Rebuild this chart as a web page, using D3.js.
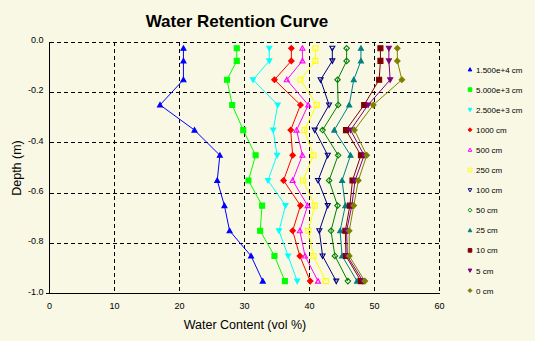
<!DOCTYPE html>
<html>
<head>
<meta charset="utf-8">
<script src="https://cdn.jsdelivr.net/npm/d3@7"></script>
<style>
  html, body { margin: 0; padding: 0; background: #f9f8e5; }
  svg { display: block; font-family: "Liberation Sans", Arial, sans-serif; }
</style>
</head>
<body>
<div id="chart"></div>
<script>
// 图表尺寸
const WIDTH = 535;
const HEIGHT = 341;

// 采样深度 (m)
const depths = [0.025, 0.075, 0.15, 0.25, 0.35, 0.45, 0.55, 0.65, 0.75, 0.85, 0.95];

// 各吸力水平下的含水量 (vol %)
const s15000 = [20.6, 20.6, 20.6, 17.0, 22.3, 26.2, 25.8, 26.9, 27.7, 31.0, 32.8];
const s5000  = [28.8, 28.8, 27.3, 28.1, 29.8, 31.7, 30.6, 32.7, 32.4, 34.6, 36.2];
const s2500  = [33.8, 33.8, 31.3, 35.1, 34.4, 35.0, 33.6, 36.3, 35.3, 36.7, 38.1];
const s1000  = [37.2, 37.2, 34.6, 38.6, 37.1, 37.4, 36.0, 38.6, 37.4, 38.5, 40.1];
const s500   = [38.9, 38.9, 36.5, 39.8, 38.0, 38.9, 37.4, 39.7, 38.5, 39.3, 41.3];
const s250   = [40.9, 40.9, 38.6, 41.1, 39.2, 40.6, 39.0, 40.8, 39.8, 40.6, 42.5];
const s100   = [43.5, 43.5, 41.7, 43.0, 40.8, 42.8, 41.3, 42.8, 41.5, 42.0, 44.1];
const s50    = [45.7, 45.7, 44.3, 44.4, 42.0, 44.4, 43.0, 44.3, 43.3, 43.9, 45.9];
const s25    = [47.9, 47.9, 46.8, 46.1, 43.8, 46.3, 45.0, 45.5, 44.7, 45.0, 47.3];
const s10    = [50.9, 50.9, 50.7, 48.4, 45.6, 47.9, 46.6, 46.2, 45.5, 45.6, 47.9];
const s5     = [52.2, 52.2, 52.4, 49.0, 46.3, 48.4, 47.0, 46.5, 45.7, 45.8, 48.2];
const s0     = [53.5, 53.5, 54.2, 49.8, 46.9, 48.8, 47.5, 46.8, 46.1, 46.1, 48.5];

const seriesNames = ['1.500e+4 cm', '5.000e+3 cm', '2.500e+3 cm', '1000 cm', '500 cm', '250 cm',
                     '100 cm', '50 cm', '25 cm', '10 cm', '5 cm', '0 cm'];
const seriesValues = [s15000, s5000, s2500, s1000, s500, s250, s100, s50, s25, s10, s5, s0];
const seriesColors = ['#0000ff', '#00ff00', '#00ffff', '#ff0000', '#ff00ff', '#ffff00',
                      '#000080', '#008000', '#008080', '#800000', '#800080', '#808000'];
// 标记: 形状 / 是否实心
const seriesShapes = ['up', 'square', 'down', 'diamond', 'up', 'square',
                      'down', 'diamond', 'up', 'square', 'down', 'diamond'];
const seriesFilled = [true, true, true, true, false, false, false, false, true, true, true, true];

const xTicks = [0, 10, 20, 30, 40, 50, 60];
const yTicks = [0, -0.2, -0.4, -0.6, -0.8, -1.0];

const margin = { left: 49.5, right: 439.6, top: 42, bottom: 293.7 };

const svg = d3.select('#chart')
    .append('svg')
    .attr('width', WIDTH)
    .attr('height', HEIGHT);

svg.append('rect')
    .attr('width', WIDTH)
    .attr('height', HEIGHT)
    .attr('fill', '#f9f8e5');

const x = d3.scaleLinear().domain([0, 60]).range([margin.left, margin.right]);
const y = d3.scaleLinear().domain([0, -1]).range([margin.top, margin.bottom]);

// 网格虚线（包括顶部和右侧边框）
const grid = svg.append('g')
    .attr('stroke', '#000')
    .attr('stroke-width', 1)
    .attr('stroke-dasharray', '4,3')
    .attr('shape-rendering', 'crispEdges');

grid.selectAll('.vgrid')
    .data(xTicks.filter(d => d > 0))
    .enter()
    .append('line')
    .attr('x1', d => x(d)).attr('x2', d => x(d))
    .attr('y1', margin.top).attr('y2', margin.bottom);

grid.selectAll('.hgrid')
    .data(yTicks.filter(d => d > -1))
    .enter()
    .append('line')
    .attr('x1', margin.left).attr('x2', margin.right)
    .attr('y1', d => y(d)).attr('y2', d => y(d));

// 坐标轴实线
svg.append('line')
    .attr('x1', margin.left).attr('x2', margin.left)
    .attr('y1', margin.top).attr('y2', margin.bottom)
    .attr('stroke', '#000').attr('shape-rendering', 'crispEdges');
svg.append('line')
    .attr('x1', margin.left - 4).attr('x2', margin.right)
    .attr('y1', margin.bottom).attr('y2', margin.bottom)
    .attr('stroke', '#000').attr('shape-rendering', 'crispEdges');

// 刻度标签
svg.selectAll('.xtick')
    .data(xTicks)
    .enter()
    .append('text')
    .attr('x', d => x(d))
    .attr('y', margin.bottom + 15)
    .attr('text-anchor', 'middle')
    .attr('font-size', '9px')
    .text(d => d);

svg.selectAll('.ytick')
    .data(yTicks)
    .enter()
    .append('text')
    .attr('x', margin.left - 6)
    .attr('y', d => y(d))
    .attr('dy', '0.1em')
    .attr('text-anchor', 'end')
    .attr('font-size', '9px')
    .text(d => d3.format('.1f')(d).replace('−', '-'));

// 标题与轴标题
svg.append('text')
    .attr('x', 237)
    .attr('y', 27)
    .attr('text-anchor', 'middle')
    .attr('font-size', '17px')
    .attr('font-weight', 'bold')
    .text('Water Retention Curve');

svg.append('text')
    .attr('x', 245)
    .attr('y', 329)
    .attr('text-anchor', 'middle')
    .attr('font-size', '12.5px')
    .text('Water Content (vol %)');

svg.append('text')
    .attr('transform', 'translate(21,168) rotate(-90)')
    .attr('text-anchor', 'middle')
    .attr('font-size', '12.5px')
    .text('Depth (m)');

// 标记路径
function markerPath(shape, s) {
    if (shape === 'up') return `M0,${-s}L${s},${s * 0.8}L${-s},${s * 0.8}Z`;
    if (shape === 'down') return `M0,${s}L${s},${-s * 0.8}L${-s},${-s * 0.8}Z`;
    if (shape === 'square') return `M${-s},${-s}H${s}V${s}H${-s}Z`;
    return `M0,${-s * 1.1}L${s * 1.1},0L0,${s * 1.1}L${-s * 1.1},0Z`;
}

const line = d3.line()
    .x(d => x(d.v))
    .y(d => y(-d.depth));

const plot = svg.append('g');

seriesValues.forEach((vals, i) => {
    const pts = vals.map((v, k) => ({ v: v, depth: depths[k] }));
    const color = seriesColors[i];

    plot.append('path')
        .datum(pts)
        .attr('fill', 'none')
        .attr('stroke', color)
        .attr('stroke-width', 1)
        .attr('d', line);

    plot.selectAll(null)
        .data(pts)
        .enter()
        .append('path')
        .attr('transform', d => `translate(${x(d.v)},${y(-d.depth)})`)
        .attr('d', markerPath(seriesShapes[i], 2.5))
        .attr('fill', seriesFilled[i] ? color : 'none')
        .attr('stroke', color)
        .attr('stroke-width', 1.1);
});

// 图例
const legend = svg.selectAll('.legend')
    .data(seriesNames)
    .enter()
    .append('g')
    .attr('class', 'legend')
    .attr('transform', (d, i) => `translate(470, ${69.5 + i * 20.1})`);

legend.append('path')
    .attr('d', (d, i) => markerPath(seriesShapes[i], 1.8))
    .attr('fill', (d, i) => seriesFilled[i] ? seriesColors[i] : 'none')
    .attr('stroke', (d, i) => seriesColors[i])
    .attr('stroke-width', 1);

legend.append('text')
    .attr('x', 6)
    .attr('y', 3)
    .attr('font-size', '8px')
    .text(d => d);
</script>
</body>
</html>
